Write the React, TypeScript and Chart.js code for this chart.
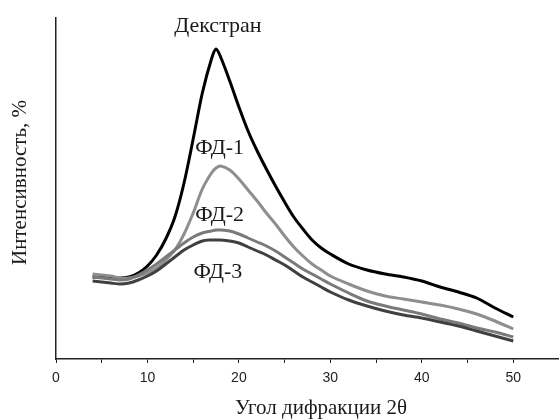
import React, { useEffect, useRef } from "react";
import { Chart, registerables } from "chart.js";

Chart.register(...registerables);

const angles = [4, 5, 6, 7, 8, 9, 10, 11, 12, 13, 14, 15, 16, 17, 17.5, 18, 19, 20, 21, 22, 23, 24, 25, 26, 27, 28, 29, 30, 32, 34, 36, 38, 40, 42, 44, 46, 48, 50];

const dextran = [82, 82, 81, 81, 82, 86, 93, 104, 120, 142, 176, 220, 266, 300, 310, 302, 278, 252, 228, 208, 190, 173, 157, 142, 130, 119, 111, 105, 95, 89, 85, 82, 78, 72, 67, 61, 51, 42];
const fd1 = [85, 84, 83, 81, 81, 83, 86, 91, 99, 109, 125, 146, 170, 186, 191, 193, 189, 180, 169, 158, 146, 135, 123, 112, 103, 95, 89, 83, 75, 68, 63, 60, 57, 54, 50, 45, 38, 30];
const fd2 = [82, 81, 80, 79, 80, 84, 89, 95, 102, 109, 116, 122, 126, 128, 129, 129, 128, 125, 121, 117, 113, 108, 102, 96, 90, 85, 80, 75, 66, 58, 53, 49, 45, 40, 36, 31, 27, 22];
const fd3 = [78, 77, 76, 75, 76, 79, 83, 88, 95, 102, 109, 114, 118, 119, 119, 119, 118, 116, 112, 108, 104, 99, 94, 88, 82, 77, 72, 67, 59, 53, 48, 44, 41, 37, 33, 28, 23, 18];

const seriesNames = ["ФД-3", "ФД-2", "ФД-1", "Декстран"];
const seriesColors = ["#404040", "#7a7a7a", "#8e8e8e", "#000000"];

const curveLabels = ["Декстран", "ФД-1", "ФД-2", "ФД-3"];
const curveLabelX = [17.7, 17.9, 17.9, 17.7];
const curveLabelY = [333, 211, 144, 87];

const xTitle = "Угол дифракции 2θ";
const yTitle = "Интенсивность, %";

const toPoints = (ys: number[]) => angles.map((x, i) => ({ x, y: ys[i] }));

export default function App() {
  const ref = useRef<HTMLCanvasElement | null>(null);

  useEffect(() => {
    if (!ref.current) return;
    const serif = "'Liberation Serif', 'Times New Roman', serif";
    const textPlugin = {
      id: "texts",
      afterDraw(chart: any) {
        const { ctx, scales, chartArea } = chart;
        ctx.save();
        ctx.fillStyle = "#1a1a1a";
        ctx.textAlign = "center";
        ctx.textBaseline = "middle";
        ctx.font = `22px ${serif}`;
        curveLabels.forEach((t, i) => {
          ctx.fillText(t, scales.x.getPixelForValue(curveLabelX[i]), scales.y.getPixelForValue(curveLabelY[i]));
        });
        ctx.font = `21px ${serif}`;
        ctx.fillText(xTitle, 321, 408);
        ctx.translate(20, (chartArea.top + chartArea.bottom) / 2 - 6);
        ctx.rotate(-Math.PI / 2);
        ctx.fillText(yTitle, 0, 0);
        ctx.restore();
      },
    };

    const datasets = [fd3, fd2, fd1, dextran].map((d, i) => ({
      label: seriesNames[i],
      data: toPoints(d),
      borderColor: seriesColors[i],
      backgroundColor: seriesColors[i],
      borderWidth: 3,
      pointRadius: 0,
      tension: 0.3,
      fill: false,
    }));

    const chart = new Chart(ref.current, {
      type: "line",
      data: { datasets },
      options: {
        animation: false,
        responsive: false,
        layout: { padding: { top: 18, right: 0, left: 0, bottom: 0 } },
        plugins: { legend: { display: false }, tooltip: { enabled: false } },
        scales: {
          x: {
            type: "linear",
            min: 0,
            max: 55,
            afterFit: (s: any) => {
              s.height = 61;
              s.paddingRight = 0;
              s.paddingLeft = 0;
            },
            ticks: {
              stepSize: 5,
              autoSkip: false,
              maxRotation: 0,
              padding: 7,
              color: "#222",
              font: { family: "'Liberation Sans', Arial, sans-serif", size: 14 },
              callback: (v: any) => (Number(v) % 10 === 0 && Number(v) <= 50 ? String(v) : ""),
            },
            grid: { drawOnChartArea: false, drawTicks: true, tickLength: 4, color: "#222", lineWidth: 1 },
            border: { display: true, color: "#222", width: 1.5 },
          },
          y: {
            type: "linear",
            min: 0,
            max: 341,
            afterFit: (s: any) => {
              s.width = 56;
              s.paddingTop = 0;
              s.paddingBottom = 0;
            },
            ticks: { display: false },
            grid: { display: true, drawOnChartArea: false, drawTicks: false },
            border: { display: true, color: "#222", width: 1.5 },
          },
        },
      },
      plugins: [textPlugin],
    });
    return () => chart.destroy();
  }, []);

  return (
    <div style={{ position: "absolute", left: 0, top: 0, width: 559, height: 420, background: "#fff" }}>
      <canvas ref={ref} width={559} height={420} />
    </div>
  );
}
